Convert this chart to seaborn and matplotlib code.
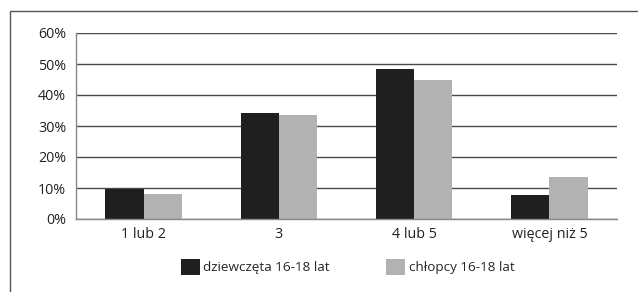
import matplotlib
matplotlib.use("Agg")
import matplotlib.pyplot as plt
import seaborn as sns
import pandas as pd
from matplotlib.patches import Rectangle
from matplotlib.ticker import FixedLocator, PercentFormatter

categories = ["1 lub 2", "3", "4 lub 5", "więcej niż 5"]
girls = [9.7, 34.2, 48.5, 7.6]
boys = [8.1, 33.7, 44.8, 13.7]
series_names = ["dziewczęta 16-18 lat", "chłopcy 16-18 lat"]
yticks = [0, 10, 20, 30, 40, 50, 60]

df = pd.DataFrame({
    "cat": categories * 2,
    "val": girls + boys,
    "series": [series_names[0]] * 4 + [series_names[1]] * 4,
})

sns.set_theme(style="white")
plt.rcParams["font.family"] = ["Open Sans", "DejaVu Sans"]

fig = plt.figure(figsize=(6.38, 2.92), dpi=100)
ax = fig.add_axes([76/638, (292-219)/292, (617-76)/638, (219-33)/292])

# outer frame
fig.patches.append(Rectangle((10/638, -0.1), 1.0, (292-11)/292 + 0.1,
                             transform=fig.transFigure, fill=False,
                             edgecolor="#555555", linewidth=1.0, zorder=0))

sns.barplot(data=df, x="cat", y="val", hue="series", ax=ax,
            palette=["#1f1f1f", "#b2b2b2"], width=0.565, saturation=1,
            dodge=True, legend=True, linewidth=0)

ax.set_ylim(0, 60)
ax.set_xlim(-0.5, 3.5)
ax.set_yticks(yticks)
ax.yaxis.set_major_formatter(PercentFormatter(decimals=0))
ax.grid(axis="y", color="#4a4a4a", linewidth=1.0)
ax.set_axisbelow(True)
ax.set_xlabel("")
ax.set_ylabel("")
for s in ["top", "right"]:
    ax.spines[s].set_visible(False)
ax.spines["left"].set_color("#888888")
ax.spines["bottom"].set_color("#888888")
ax.spines["left"].set_linewidth(1.0)
ax.spines["bottom"].set_linewidth(1.0)

ax.tick_params(axis="x", which="major", length=0, labelsize=10.3, pad=6, colors="#222222")
ax.xaxis.set_minor_locator(FixedLocator([-0.5, 0.5, 1.5, 2.5, 3.5]))
ax.tick_params(axis="x", which="minor", length=4, direction="out", color="#888888")
ax.tick_params(axis="y", length=0, labelsize=10.3, pad=7, colors="#222222")

handles, labels = ax.get_legend_handles_labels()
ax.legend(handles, labels, loc="center left", bbox_to_anchor=(181/638, (292-267)/292),
          bbox_transform=fig.transFigure, ncol=2, frameon=False,
          fontsize=9.7, handlelength=1.4, handleheight=1.4,
          columnspacing=4.2, handletextpad=0.25, borderpad=0, borderaxespad=0)

fig.savefig("out.png", dpi=100)
